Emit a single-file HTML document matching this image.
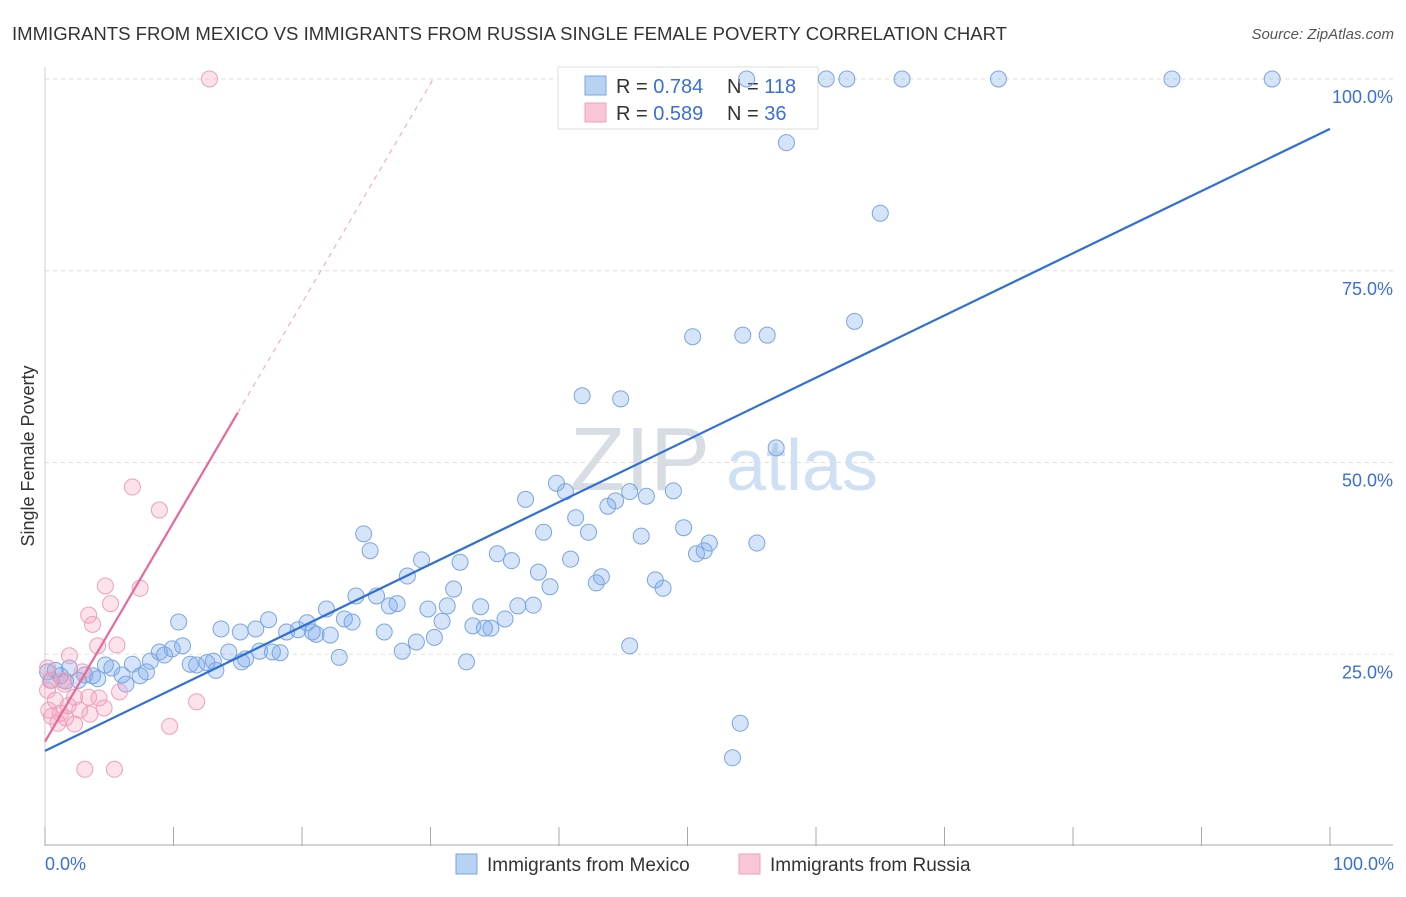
<!DOCTYPE html>
<html><head><meta charset="utf-8"><style>
body{margin:0;background:#fff;font-family:"Liberation Sans",sans-serif;}
svg text{font-family:"Liberation Sans",sans-serif;}
</style></head><body>
<svg id="chart" width="1406" height="892" xmlns="http://www.w3.org/2000/svg">
<text x="12" y="40" font-size="18" fill="#333" textLength="995" lengthAdjust="spacingAndGlyphs">IMMIGRANTS FROM MEXICO VS IMMIGRANTS FROM RUSSIA SINGLE FEMALE POVERTY CORRELATION CHART</text>
<text x="1394" y="39" font-size="15" fill="#555" text-anchor="end" font-style="italic">Source: ZipAtlas.com</text>
<text x="640" y="490" font-size="90" fill="#d8dde4" font-family="Liberation Serif" text-anchor="middle">ZIP</text>
<text x="802" y="490" font-size="72" fill="#cfe0f4" text-anchor="middle">atlas</text>
<g id="grid"></g>
<g id="axes"></g>
<g>
<rect x="558" y="67" width="260" height="62" fill="#fff" stroke="#ddd"/>
<rect x="585" y="76" width="21" height="19" fill="#b8d2f4" stroke="#7aa6e0"/>
<rect x="585" y="103" width="21" height="19" fill="#f8c6d6" stroke="#eea0bb"/>
<text x="616" y="93" font-size="20" fill="#333">R = <tspan fill="#3a6fd8">0.784</tspan></text>
<text x="727" y="93" font-size="20" fill="#333">N = <tspan fill="#3a6fd8">118</tspan></text>
<text x="616" y="120" font-size="20" fill="#333">R = <tspan fill="#3a6fd8">0.589</tspan></text>
<text x="727" y="120" font-size="20" fill="#333">N = <tspan fill="#3a6fd8"> 36</tspan></text>
</g>
<g id="pts"></g>
<g id="lines"></g>
<text transform="translate(34,456) rotate(-90)" font-size="18" fill="#333" text-anchor="middle">Single Female Poverty</text>
<text x="45" y="870" font-size="18" fill="#3a6fd8">0.0%</text>
<text x="1394" y="870" font-size="18" fill="#3a6fd8" text-anchor="end">100.0%</text>
<g>
<rect x="456" y="854" width="21" height="20" fill="#b8d2f4" stroke="#7aa6e0"/>
<text x="487" y="871" font-size="19" fill="#333">Immigrants from Mexico</text>
<rect x="739" y="854" width="21" height="20" fill="#f8c6d6" stroke="#eea0bb"/>
<text x="770" y="871" font-size="19" fill="#333">Immigrants from Russia</text>
</g>
</svg>
<script>
const yTicks=[25,50,75,100];
const yTickLabels=["25.0%","50.0%","75.0%","100.0%"];
const xTicks=[0,10,20,30,40,50,60,70,80,90,100];
const mexicoX=[54.6,60.8,62.4,66.7,74.2,87.7,95.5,57.7,65.0,63.0,50.4,54.3,56.2,41.8,44.8,56.9,39.8,40.5,37.4,45.5,46.8,48.9,43.8,44.4,41.3,38.8,42.3,46.4,49.7,51.7,50.7,51.3,55.4,24.8,25.3,29.3,32.3,35.2,36.3,40.9,38.4,28.2,43.3,42.9,47.5,48.1,39.3,31.8,24.2,25.8,26.8,27.4,31.3,29.8,33.9,36.8,38.0,21.9,23.3,23.9,30.9,35.8,33.3,34.2,34.7,10.4,17.4,20.4,13.7,15.2,16.4,18.8,19.7,20.8,21.1,22.2,26.4,30.3,28.9,45.5,27.8,22.9,32.8,10.7,9.9,8.9,9.3,14.3,16.7,17.7,18.3,8.2,11.3,11.8,12.6,13.1,15.6,15.3,13.3,6.8,4.7,5.2,7.9,6.0,7.4,6.3,1.9,0.8,0.2,1.2,3.1,3.7,4.1,2.6,0.5,1.6,54.1,53.5];
const mexicoY=[100,100,100,100,100,100,100,91.7,82.5,68.4,66.4,66.6,66.6,58.7,58.3,51.9,47.3,46.2,45.2,46.2,45.6,46.3,44.3,45.0,42.8,40.9,40.9,40.4,41.5,39.5,38.1,38.5,39.5,40.7,38.5,37.3,37.0,38.1,37.2,37.4,35.7,35.2,35.1,34.3,34.7,33.6,33.8,33.5,32.6,32.6,31.3,31.6,31.3,30.9,31.2,31.3,31.4,30.9,29.6,29.2,29.3,29.6,28.7,28.4,28.4,29.2,29.5,29.1,28.3,27.9,28.3,27.9,28.2,27.9,27.6,27.5,27.9,27.2,26.6,26.1,25.4,24.6,24.0,26.1,25.7,25.3,24.9,25.3,25.4,25.3,25.2,24.1,23.7,23.6,23.9,24.1,24.4,24.0,22.9,23.7,23.6,23.2,22.7,22.3,22.2,21.1,23.2,22.9,22.7,22.2,22.3,22.2,21.8,21.6,21.6,21.5,16.0,11.5];
const russiaX=[12.8,6.8,8.9,4.7,7.4,5.1,3.4,3.7,5.6,4.1,1.9,0.2,2.9,0.4,1.5,5.8,3.4,2.3,4.2,0.8,11.8,1.8,4.6,2.7,0.3,1.2,3.5,0.5,1.6,1.0,2.3,9.7,3.1,5.4,0.2,1.4];
const russiaY=[100,46.8,43.8,33.9,33.6,31.6,30.1,28.9,26.2,26.1,24.8,23.2,22.7,21.6,21.1,20.1,19.4,19.4,19.3,19.0,18.8,18.3,18.0,17.7,17.7,17.3,17.2,16.9,16.7,16.0,15.9,15.6,10.0,10.0,20.3,21.6];
const mexicoFit=[12.4,93.5];
const russiaFit=[13.6,2.86];
const X0=45,X1=1330,Y0=846,Y100=79;
const sx=v=>X0+(X1-X0)*v/100, sy=v=>Y0-(Y0-Y100)*v/100;
const NS="http://www.w3.org/2000/svg";
function mk(t,a,p){const e=document.createElementNS(NS,t);for(const k in a)e.setAttribute(k,a[k]);p.appendChild(e);return e;}
const grid=document.getElementById('grid'),axes=document.getElementById('axes'),pts=document.getElementById('pts'),lines=document.getElementById('lines');
yTicks.forEach((v,i)=>{
 const l=mk('line',{x1:X0,x2:1393,y1:sy(v),y2:sy(v),stroke:'#ddd','stroke-dasharray':'4,4'},grid);
 
 
 const t=mk('text',{x:1393,y:sy(v)+24,'font-size':18,fill:'#3a6fd8','text-anchor':'end'},grid);
 t.textContent=yTickLabels[i];
 
 
});
const ax=mk('line',{x1:X0,x2:1393,y1:Y0-1,y2:Y0-1,stroke:'#aaa'},axes);


const ay=mk('line',{x1:X0,x2:X0,y1:67,y2:Y0,stroke:'#ccc'},axes);


xTicks.forEach(v=>{
 const t=mk('line',{x1:sx(v),x2:sx(v),y1:827,y2:Y0,stroke:'#aaa'},axes);
 
 
});
mexicoX.forEach((x,i)=>{
 const c=mk('circle',{cx:sx(x),cy:sy(mexicoY[i]),r:8,fill:'rgba(120,165,235,0.3)',stroke:'#7aa6e0','stroke-width':1},pts);
 
 
});
russiaX.forEach((x,i)=>{
 const c=mk('circle',{cx:sx(x),cy:sy(russiaY[i]),r:8,fill:'rgba(245,160,190,0.3)',stroke:'#eea0bb','stroke-width':1},pts);
 
 
});
const bl=mk('line',{x1:sx(0),y1:sy(mexicoFit[0]),x2:sx(100),y2:sy(mexicoFit[1]),stroke:'#2f6fd6','stroke-width':2.2},lines);


const rf=x=>russiaFit[0]+russiaFit[1]*x;
const xe=(100-russiaFit[0])/russiaFit[1];
const rl=mk('line',{x1:sx(0),y1:sy(rf(0)),x2:sx(15),y2:sy(rf(15)),stroke:'#e8689a','stroke-width':2.2},lines);


const rd=mk('line',{x1:sx(15),y1:sy(rf(15)),x2:sx(xe),y2:sy(100),stroke:'#eeb0c6','stroke-width':1.2,'stroke-dasharray':'5,5'},lines);


</script>
</body></html>
